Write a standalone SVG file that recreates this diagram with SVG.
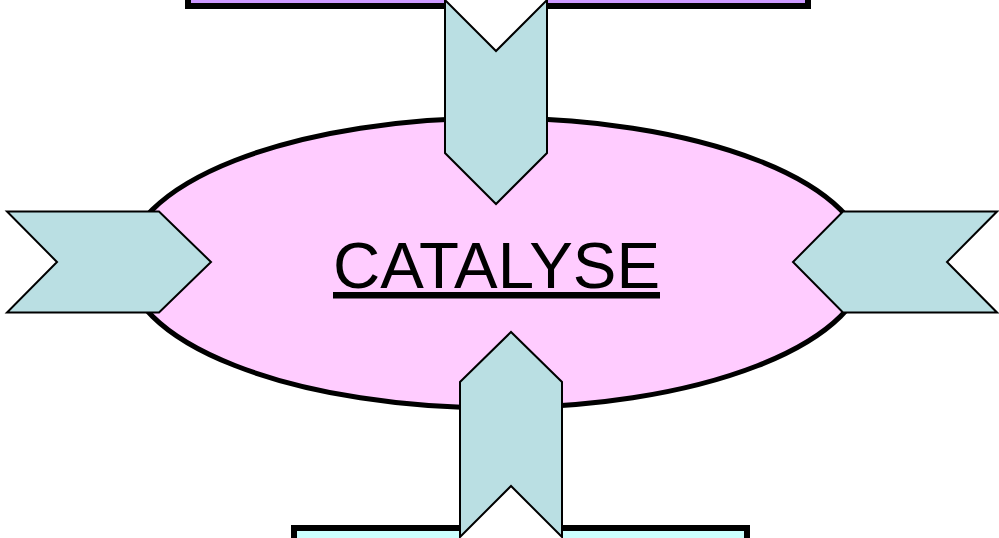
<svg xmlns="http://www.w3.org/2000/svg" width="999" height="538" viewBox="0 0 999 538">
<style>
.box{stroke:#000;stroke-width:6}
.chev{fill:#BADFE3;stroke:#000;stroke-width:2;stroke-linejoin:miter}
.notch{fill:#fff;stroke:none}
.label{font-family:"Liberation Sans",Arial,sans-serif;font-size:65px;fill:#000;text-decoration:underline}
</style>
<rect width="999" height="538" fill="#fff"/>
<g id="top-box"><rect class="box" x="188" y="-20" width="620" height="26" fill="#CC99FF"/></g>
<g id="bottom-box"><rect class="box" x="294" y="528" width="453" height="30" fill="#CCFFFF"/></g>
<g id="catalyse">
<ellipse cx="496.5" cy="263" rx="370" ry="145" fill="#FFCCFF" stroke="#000" stroke-width="5"/>
<text class="label" x="496.5" y="288" text-anchor="middle" textLength="327" lengthAdjust="spacingAndGlyphs">CATALYSE</text>
</g>
<g id="connectors">
<g id="arrow-top">
<polygon class="notch" points="445,-6 445,0 496,51 547,0 547,-6"/>
<polygon class="chev" points="445,0 496,51 547,0 547,153 496,204 445,153"/>
</g>
<g id="arrow-bottom">
<polygon class="notch" points="460,545 460,537 511,486 562,537 562,545"/>
<polygon class="chev" points="460,537 460,382 511,332 562,382 562,537 511,486"/>
</g>
<g id="arrow-left">
<polygon class="chev" points="7,211.5 159,211.5 211,262 159,312.5 7,312.5 57,262"/>
</g>
<g id="arrow-right">
<polygon class="chev" points="997,211.5 843,211.5 793,262 843,312.5 997,312.5 947,262"/>
</g>
</g>
</svg>
